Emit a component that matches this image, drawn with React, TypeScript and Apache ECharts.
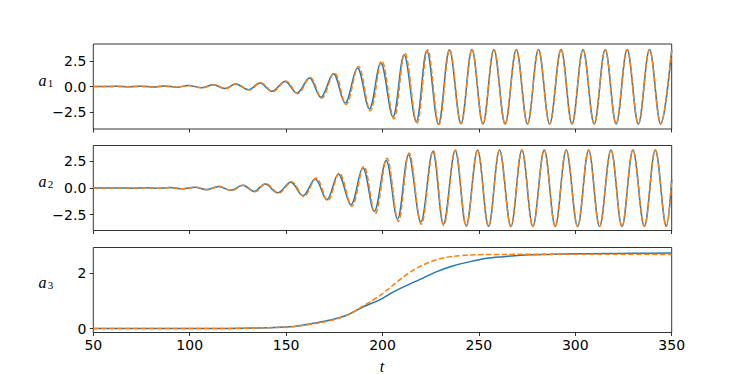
import React, { useEffect, useRef } from "react";
import * as echarts from "echarts";

// ---- data ----
const xTicks = [50, 100, 150, 200, 250, 300, 350];
const oscTicks = [-2.5, 0, 2.5];
const a3Ticks = [0, 2];

// a1: extrema (time, value), blue solid
const a1T = [50, 55.5, 61.8, 68.1, 74.4, 80.7, 87, 93.3, 99.3, 106.3, 112.3, 118.3, 123.8, 130.4, 136.5, 142.6, 149.5, 155.6, 162.1, 168, 174.5, 180.6, 187, 193.2, 199.1, 205.4, 211.2, 217.5, 223, 229, 234.7, 240.7, 246.4, 252.1, 257.8, 263.6, 269.4, 275.2, 280.9, 286.7, 292.6, 298.3, 304, 309.8, 315.5, 321.2, 326.9, 332.7, 338.5, 344.3, 350];
const a1V = [0, -0.01, 0.015, -0.02, 0.03, -0.04, 0.06, -0.08, 0.1, -0.12, 0.16, -0.2, 0.24, -0.32, 0.33, -0.46, 0.49, -0.65, 0.82, -1.06, 1.25, -1.62, 1.8, -2.18, 2.3, -2.95, 3.11, -3.44, 3.5, -3.68, 3.58, -3.62, 3.62, -3.66, 3.62, -3.66, 3.62, -3.66, 3.62, -3.66, 3.62, -3.66, 3.62, -3.66, 3.62, -3.66, 3.62, -3.66, 3.62, -3.66, 3.62];
// a1: orange dashed
const a1oT = [50, 55.5, 61.8, 68.1, 74.4, 80.7, 87, 93.3, 99.4, 106.5, 112.5, 118.6, 124.1, 130.8, 136.9, 143, 149.9, 156, 162.5, 168.5, 175, 181.1, 187.5, 193.7, 199.6, 205.9, 211.6, 217.9, 223.4, 229.3, 234.9, 240.8, 246.4, 252.1, 257.8, 263.6, 269.4, 275.2, 280.9, 286.7, 292.6, 298.3, 304, 309.8, 315.5, 321.2, 326.9, 332.7, 338.5, 344.3, 350];
const a1oV = [0, -0.01, 0.015, -0.02, 0.03, -0.04, 0.06, -0.08, 0.1, -0.13, 0.17, -0.21, 0.26, -0.34, 0.36, -0.5, 0.53, -0.7, 0.88, -1.14, 1.35, -1.75, 1.95, -2.38, 2.5, -3.15, 3.3, -3.6, 3.6, -3.72, 3.6, -3.64, 3.62, -3.66, 3.62, -3.66, 3.62, -3.66, 3.62, -3.66, 3.62, -3.66, 3.62, -3.66, 3.62, -3.66, 3.62, -3.66, 3.62, -3.66, 3.62];

// a2: extrema, blue solid
const a2T = [50, 57.5, 64, 70.5, 77, 83.5, 89.8, 96.4, 102.8, 108.8, 114.9, 121.3, 127.5, 133.4, 139.1, 145.6, 152.4, 158.7, 165.1, 171.1, 177.1, 183.6, 189.8, 195.7, 201.9, 207.8, 213.5, 219.9, 226.1, 231.6, 237.7, 243.4, 249.3, 255, 260.7, 266.6, 272.3, 278, 283.9, 289.6, 295.3, 301.2, 306.9, 312.6, 318.5, 324.2, 329.9, 335.8, 341.5, 347.2, 350];
const a2V = [0, -0.01, 0.01, -0.015, 0.02, -0.03, 0.04, -0.08, 0.07, -0.15, 0.15, -0.22, 0.25, -0.32, 0.38, -0.45, 0.53, -0.72, 0.85, -1.1, 1.3, -1.57, 1.9, -2.2, 2.6, -2.91, 3.13, -3.2, 3.44, -3.4, 3.53, -3.55, 3.57, -3.62, 3.57, -3.62, 3.57, -3.62, 3.57, -3.62, 3.57, -3.62, 3.57, -3.62, 3.57, -3.62, 3.57, -3.62, 3.57, -3.62, 0.8];
// a2: orange dashed
const a2oT = [50, 57.5, 64, 70.5, 77, 83.5, 89.8, 96.4, 102.9, 109, 115.2, 121.6, 127.9, 133.8, 139.5, 146.1, 152.9, 159.2, 165.6, 171.6, 177.6, 184.1, 190.3, 196.2, 202.3, 208.2, 213.8, 220.1, 226.3, 231.8, 237.8, 243.5, 249.3, 255, 260.7, 266.6, 272.3, 278, 283.9, 289.6, 295.3, 301.2, 306.9, 312.6, 318.5, 324.2, 329.9, 335.8, 341.5, 347.2, 350];
const a2oV = [0, -0.01, 0.01, -0.015, 0.02, -0.03, 0.04, -0.08, 0.08, -0.16, 0.16, -0.24, 0.27, -0.35, 0.41, -0.49, 0.58, -0.8, 0.93, -1.2, 1.42, -1.72, 2.05, -2.42, 2.8, -3.15, 3.3, -3.42, 3.52, -3.52, 3.57, -3.6, 3.57, -3.62, 3.57, -3.62, 3.57, -3.62, 3.57, -3.62, 3.57, -3.62, 3.57, -3.62, 3.57, -3.62, 3.57, -3.62, 3.57, -3.62, 0.8];

// a3: blue solid / orange dashed
const a3T = [50, 80, 100, 120, 135, 147, 155, 164, 173, 181.6, 190, 198.8, 205.7, 210.9, 219.5, 228.2, 236.8, 245.5, 254.1, 262.8, 271.4, 280, 288.7, 300, 314.7, 330, 350];
const a3V = [0, 0, 0, 0.005, 0.02, 0.05, 0.09, 0.19, 0.31, 0.49, 0.79, 1.05, 1.33, 1.51, 1.78, 2.06, 2.27, 2.42, 2.54, 2.6, 2.65, 2.67, 2.69, 2.7, 2.71, 2.72, 2.73];
const a3oT = [50, 100, 120, 135, 147, 155, 164, 173, 181.6, 190, 193.6, 198.8, 202.3, 206, 210.9, 215, 219.5, 224, 228.2, 232, 236.8, 245.5, 254, 262.8, 288.7, 320, 350];
const a3oV = [0, 0, 0.004, 0.02, 0.05, 0.08, 0.17, 0.29, 0.48, 0.82, 0.97, 1.2, 1.39, 1.6, 1.87, 2.07, 2.25, 2.39, 2.49, 2.56, 2.61, 2.66, 2.675, 2.68, 2.69, 2.685, 2.68];

const BLUE = "#1f77b4";
const ORANGE = "#ff7f0e";

function pairs(t: number[], v: number[]) {
  const n = Math.min(t.length, v.length);
  const out: number[][] = [];
  for (let i = 0; i < n; i++) out.push([t[i], v[i]]);
  return out;
}

const fmtOsc = (v: number) =>
  v === 0 ? "0.0" : v < 0 ? "\u2212" + Math.abs(v).toFixed(1) : v.toFixed(1);

export default function App() {
  const ref = useRef<HTMLDivElement>(null);
  useEffect(() => {
    document.body.style.margin = "0";
    if (!ref.current) return;
    const chart = echarts.init(ref.current, undefined, { renderer: "svg" });
    const L = 93.3;
    const W = 578.4;
    const H = 85;
    const tops = [44, 145.5, 247.5];
    const grids = tops.map((top) => ({
      left: L,
      top,
      width: W,
      height: H,
      show: true,
      borderColor: "#000",
      borderWidth: 0.8,
      backgroundColor: "transparent",
    }));
    const tickStyle = { color: "#000", width: 0.8 };
    const labelFont = { color: "#000", fontSize: 14, fontFamily: "DejaVu Sans" };
    const xAxes = [0, 1, 2].map((i) => ({
      type: "value",
      gridIndex: i,
      position: "bottom",
      min: xTicks[0],
      max: xTicks[xTicks.length - 1],
      interval: 50,
      axisLine: { show: false, onZero: false },
      axisTick: { show: true, length: 3.5, inside: false, lineStyle: tickStyle },
      axisLabel: { show: i === 2, margin: 5, ...labelFont },
      splitLine: { show: false },
    }));
    const yRanges = [
      [-4.15, 4.15],
      [-4.0, 4.0],
      [-0.14, 2.93],
    ];
    const yAxes = [0, 1, 2].map((i) => ({
      type: "value",
      gridIndex: i,
      position: "left",
      min: yRanges[i][0],
      max: yRanges[i][1],
      axisLine: { show: false, onZero: false },
      axisTick: {
        show: true,
        length: 3.5,
        inside: false,
        lineStyle: tickStyle,
        customValues: i === 2 ? a3Ticks : oscTicks,
      },
      axisLabel: {
        show: true,
        margin: 7,
        ...labelFont,
        customValues: i === 2 ? a3Ticks : oscTicks,
        formatter: i === 2 ? (v: number) => String(Math.round(v)) : fmtOsc,
      },
      splitLine: { show: false },
    }));
    const line = (idx: number, data: number[][], color: string, dashed: boolean, smooth: number) => ({
      type: "line",
      xAxisIndex: idx,
      yAxisIndex: idx,
      data,
      smooth,
      showSymbol: false,
      symbol: "none",
      clip: true,
      lineStyle: { color, width: 1.5, type: dashed ? [5.5, 2.4] : "solid" },
    });
    const series = [
      line(0, pairs(a1T, a1V), BLUE, false, 0.36),
      line(0, pairs(a1oT, a1oV), ORANGE, true, 0.36),
      line(1, pairs(a2T, a2V), BLUE, false, 0.36),
      line(1, pairs(a2oT, a2oV), ORANGE, true, 0.36),
      line(2, pairs(a3T, a3V), BLUE, false, 0.3),
      line(2, pairs(a3oT, a3oV), ORANGE, true, 0.3),
    ];
    const mathFont = 'italic 16px "Liberation Serif"';
    const subFont = '11px "Liberation Serif"';
    const ylab = (sub: string, cy: number) => [
      {
        type: "text",
        x: 42.5,
        y: cy,
        style: { text: "a", font: mathFont, fill: "#000", align: "center", verticalAlign: "middle", textAlign: "center", textVerticalAlign: "middle" },
      },
      {
        type: "text",
        x: 50.5,
        y: cy + 2.5,
        style: { text: sub, font: subFont, fill: "#000", align: "center", verticalAlign: "middle", textAlign: "center", textVerticalAlign: "middle" },
      },
    ];
    chart.setOption({
      animation: false,
      grid: grids,
      xAxis: xAxes,
      yAxis: yAxes,
      series,
      graphic: [
        ...ylab("1", 80),
        ...ylab("2", 181.5),
        ...ylab("3", 282),
        {
          type: "text",
          x: 382,
          y: 366.5,
          style: { text: "t", font: mathFont, fill: "#000", align: "center", verticalAlign: "middle", textAlign: "center", textVerticalAlign: "middle" },
        },
      ],
    });
    return () => chart.dispose();
  }, []);
  return <div ref={ref} style={{ width: 747, height: 374 }} />;
}
